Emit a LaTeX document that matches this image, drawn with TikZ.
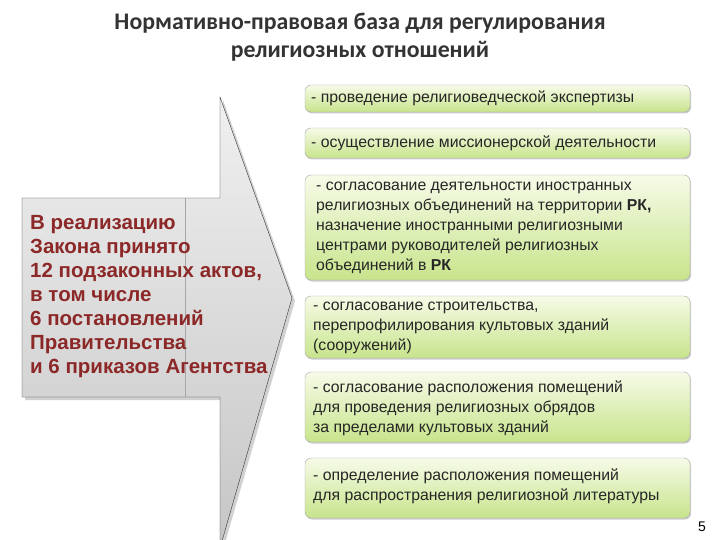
\documentclass[tikz,border=0pt]{standalone}
\usepackage{fontspec}
\setmainfont{Liberation Sans}
\newfontfamily\titlefont{Carlito}
\usetikzlibrary{shadows}
\definecolor{boxtop}{RGB}{246,251,232}
\definecolor{boxbot}{RGB}{200,228,140}
\definecolor{redtxt}{RGB}{140,40,40}
\tikzset{
 gbox/.style={draw=gray!70, rounded corners=6pt, top color=boxtop, bottom color=boxbot, drop shadow={shadow xshift=1pt, shadow yshift=-1.5pt, opacity=.4}, inner sep=0pt},
 btxt/.style={anchor=north west, align=left, font=\fontsize{15.8}{20}\selectfont, text=black!85, inner sep=0pt},
}
\begin{document}
\begin{tikzpicture}[x=1pt,y=-1pt]
\useasboundingbox (0,0) rectangle (720,540);
\node[font=\titlefont\bfseries\fontsize{23.8}{28}\selectfont, text=black!80, align=center] (title) at (360,37) {Нормативно-правовая база для регулирования\\религиозных отношений};
\begin{scope}
\clip (0,0) rectangle (720,540);
\fill[gray!60, opacity=.6] (25,201) -- (223,201) -- (223,100) -- (295,301) -- (223,550) -- (223,400) -- (25,400) -- cycle;
\path[draw=black!80, top color=gray!12, bottom color=gray!45] (22,198) -- (220,198) -- (220,97) -- (292,298) -- (220,548) -- (220,397) -- (22,397) -- cycle;
\draw[gray!70] (185,198) -- (185,397);
\end{scope}
\node[anchor=west, align=left, inner sep=0pt, font=\bfseries\fontsize{20.5}{24}\selectfont, text=redtxt] (left) at (30,297) {В реализацию\\Закона принято\\12 подзаконных актов,\\в том числе\\6 постановлений\\Правительства\\и 6 приказов Агентства};
\path[gbox] (305,85) rectangle (690,112) coordinate (b1);
\path[gbox] (305,128) rectangle (690,158) coordinate (b2);
\path[gbox] (305,175) rectangle (690,280) coordinate (b3);
\path[gbox] (305,296) rectangle (690,358) coordinate (b4);
\path[gbox] (305,372) rectangle (690,442) coordinate (b5);
\path[gbox] (305,458) rectangle (690,518) coordinate (b6);
\node[btxt] (t1) at (311,91) {- проведение религиоведческой экспертизы};
\node[btxt] (t2) at (311,136) {- осуществление миссионерской деятельности};
\node[btxt] (t3) at (316,182) {- согласование деятельности иностранных\\религиозных объединений на территории \textbf{РК,}\\назначение иностранными религиозными\\центрами руководителей религиозных\\объединений в \textbf{РК}};
\node[btxt] (t4) at (313,302) {- согласование строительства,\\перепрофилирования культовых зданий\\(сооружений)};
\node[btxt] (t5) at (313,381) {- согласование расположения помещений\\для проведения религиозных обрядов\\за пределами культовых зданий};
\node[btxt] (t6) at (313,469) {- определение расположения помещений\\для распространения религиозной литературы};
\node[font=\fontsize{14}{15}\selectfont] (pg) at (702,527) {5};
\end{tikzpicture}
\end{document}
